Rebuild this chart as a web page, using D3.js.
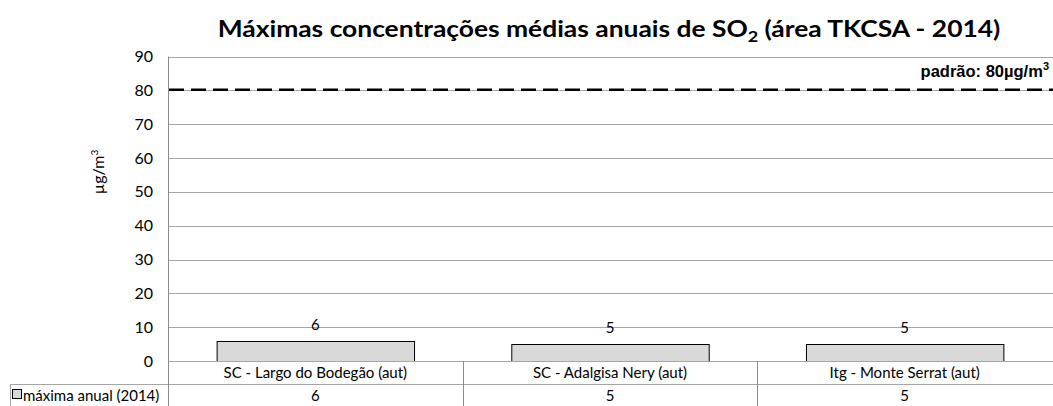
<!DOCTYPE html>
<html>
<head>
<meta charset="utf-8">
<script src="https://cdn.jsdelivr.net/npm/d3@7"></script>
<style>
  body { margin: 0; background: #fff; }
  svg { display: block; }
</style>
</head>
<body>
<svg id="chart" width="1053" height="406"></svg>
<script>
// Annual maximum SO2 concentrations per station
const categories = ["SC - Largo do Bodegão (aut)", "SC - Adalgisa Nery (aut)", "Itg - Monte Serrat (aut)"];
const values = [6, 5, 5];
const seriesName = "máxima anual (2014)";
const yTicks = [0, 10, 20, 30, 40, 50, 60, 70, 80, 90];
const standardValue = 80;
const standardLabel = "padrão: 80µg/m";

const W = 1053, H = 406;
const margin = { left: 168, right: 1, top: 56.5 };
const plotBottom = 361;
const rowH = 23;

const svg = d3.select("#chart");
const font = "Lato, 'Open Sans', sans-serif";

const x = d3.scaleBand().domain(categories).range([margin.left, W - margin.right]).paddingInner(0).paddingOuter(0);
const y = d3.scaleLinear().domain([0, 90]).range([plotBottom, margin.top]);

// Title (horizontally widened)
const title = svg.append("text")
  .attr("transform", "translate(609,37) scale(1.2,1)")
  .attr("text-anchor", "middle")
  .attr("font-family", font).attr("font-weight", "bold")
  .attr("font-size", 22).attr("fill", "#000");
title.append("tspan").text("Máximas concentrações médias anuais de SO");
title.append("tspan").attr("font-size", 15).attr("dy", 5).text("2");
title.append("tspan").attr("dy", -5).text(" (área TKCSA - 2014)");

// Gridlines
svg.append("g").selectAll("line").data(yTicks.filter(d => d > 0)).join("line")
  .attr("x1", margin.left).attr("x2", W)
  .attr("y1", d => Math.round(y(d)) + 0.5).attr("y2", d => Math.round(y(d)) + 0.5)
  .attr("stroke", "#a6a6a6").attr("stroke-width", 1);

// Y axis
const yAxis = d3.axisLeft(y).tickValues(yTicks).tickSize(0).tickPadding(15);
const gy = svg.append("g").attr("transform", `translate(${margin.left},0)`).call(yAxis);
gy.select(".domain").remove();
gy.selectAll("text").attr("font-family", font).attr("font-size", 16).attr("fill", "#000");

// Y label
const yl = svg.append("text")
  .attr("transform", "translate(104,172) rotate(-90)")
  .attr("text-anchor", "middle")
  .attr("font-family", font).attr("font-size", 16).attr("fill", "#000");
yl.append("tspan").text("µg/m");
yl.append("tspan").attr("font-size", 10).attr("dy", -6).text("3");

// Bars
const barW = x.bandwidth() * 0.67;
svg.append("g").selectAll("rect").data(values).join("rect")
  .attr("x", (d, i) => x(categories[i]) + (x.bandwidth() - barW) / 2 + 0.5)
  .attr("y", d => Math.round(y(d)) + 0.5)
  .attr("width", barW)
  .attr("height", d => plotBottom - Math.round(y(d)))
  .attr("fill", "#d9d9d9").attr("stroke", "#000").attr("stroke-width", 1);

// Value labels
svg.append("g").selectAll("text").data(values).join("text")
  .attr("x", (d, i) => x(categories[i]) + x.bandwidth() / 2)
  .attr("y", d => y(d) - 11)
  .attr("text-anchor", "middle")
  .attr("font-family", font).attr("font-size", 15).attr("fill", "#000")
  .text(d => d);

// Standard line
svg.append("line")
  .attr("x1", margin.left + 1).attr("x2", W)
  .attr("y1", y(standardValue) - 0.5).attr("y2", y(standardValue) - 0.5)
  .attr("stroke", "#000").attr("stroke-width", 2.5).attr("stroke-dasharray", "15,7");
const sl = svg.append("text")
  .attr("x", 1049).attr("y", 77)
  .attr("text-anchor", "end")
  .attr("font-family", "'Liberation Sans', Arial, sans-serif").attr("font-weight", "bold")
  .attr("font-size", 16.5).attr("fill", "#000");
sl.append("tspan").text(standardLabel);
sl.append("tspan").attr("font-size", 11).attr("dy", -7).text("3");

// Data table
const tableTop = plotBottom;
const grid = "#a6a6a6";
const tg = svg.append("g");
tg.append("line").attr("x1", margin.left).attr("x2", W).attr("y1", tableTop + 0.5).attr("y2", tableTop + 0.5).attr("stroke", grid);
tg.append("line").attr("x1", 10).attr("x2", W).attr("y1", tableTop + rowH + 0.5).attr("y2", tableTop + rowH + 0.5).attr("stroke", grid);
tg.append("line").attr("x1", 10.5).attr("x2", 10.5).attr("y1", tableTop + rowH).attr("y2", H).attr("stroke", grid);
tg.append("line").attr("x1", margin.left + 0.5).attr("x2", margin.left + 0.5).attr("y1", margin.top).attr("y2", H).attr("stroke", "#8c8c8c");
categories.slice(1).forEach(c => {
  tg.append("line").attr("x1", Math.round(x(c)) + 0.5).attr("x2", Math.round(x(c)) + 0.5)
    .attr("y1", tableTop).attr("y2", H).attr("stroke", "#8c8c8c");
});
// category row
tg.selectAll("text.cat").data(categories).join("text").attr("class", "cat")
  .attr("x", d => x(d) + x.bandwidth() / 2).attr("y", tableTop + 17)
  .attr("text-anchor", "middle")
  .attr("font-family", font).attr("font-size", 15).attr("fill", "#000")
  .text(d => d);
// values row
tg.selectAll("text.val").data(values).join("text").attr("class", "val")
  .attr("x", (d, i) => x(categories[i]) + x.bandwidth() / 2).attr("y", tableTop + rowH + 17)
  .attr("text-anchor", "middle")
  .attr("font-family", font).attr("font-size", 15).attr("fill", "#000")
  .text(d => d);
// legend key + series name
tg.append("rect").attr("x", 12.5).attr("y", tableTop + rowH + 5.5).attr("width", 9).attr("height", 9)
  .attr("fill", "#d9d9d9").attr("stroke", "#000").attr("stroke-width", 1);
tg.append("text").attr("x", 23).attr("y", tableTop + rowH + 17)
  .attr("font-family", font).attr("font-size", 15).attr("fill", "#000")
  .text(seriesName);
</script>
</body>
</html>
